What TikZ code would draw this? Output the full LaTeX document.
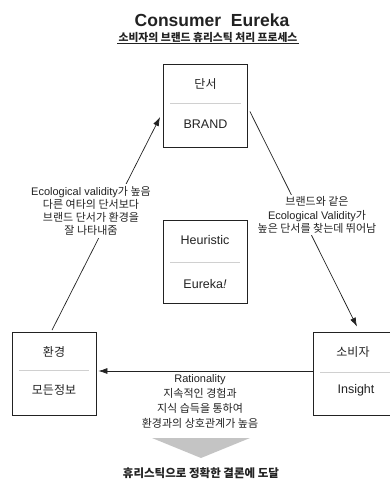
\documentclass[tikz,border=0pt]{standalone}
\usepackage{fontspec}
\setmainfont{Liberation Sans}
\newfontfamily\kr{Noto Sans CJK KR}
\usetikzlibrary{arrows.meta,calc}
\definecolor{ink}{HTML}{222222}
\definecolor{divcol}{HTML}{D0D0D0}
\definecolor{tri}{HTML}{C4C4C4}
\begin{document}
\begin{tikzpicture}[x=1pt,y=-1pt,
  box/.style={draw=ink, line width=0.8pt, minimum width=84pt, minimum height=83pt, inner sep=0pt},
  lbl/.style={font=\fontsize{12.5}{15}\selectfont, text=ink, inner sep=0pt},
  klbl/.style={font=\kr\fontsize{12}{15}\selectfont, text=ink, inner sep=0pt},
  note/.style={font=\fontsize{11}{13.2}\selectfont, align=center, fill=white, inner sep=2pt, text=ink},
  conn/.style={draw=ink, line width=0.7pt, -{Latex[length=9pt,width=6pt]}},
  divider/.style={draw=divcol, line width=0.7pt}]
\useasboundingbox (0,0) rectangle (390,485);
% titles
\node[font=\bfseries\fontsize{17.5}{20}\selectfont, text=ink] (title) at (212,20) {Consumer\ \ Eureka};
\node[font=\kr\bfseries\fontsize{10.8}{12}\selectfont, text=ink, inner sep=1pt] (sub) at (208,37) {소비자의 브랜드 휴리스틱 처리 프로세스};
\draw[ink, line width=0.6pt] (sub.south west) -- (sub.south east);
% boxes
\node[box] (brand) at (205.5,105.5) {};
\node[box] (heur) at (205,262) {};
\node[box] (env) at (54,374) {};
\node[box] (cons) at (355,373.5) {};
% labels
\node[klbl] (brandk) at (205.5,84) {단서};
\node[lbl] (brande) at (205.5,124) {BRAND};
\draw[divider] (170,103) -- (241,103);
\node[lbl] (heurk) at (205,240) {Heuristic};
\node[lbl] (heure) at (205,284) {Eureka\textit{!}};
\draw[divider] (170,262) -- (240,262);
\node[klbl] (envk) at (54,352) {환경};
\node[klbl] (enve) at (54,390) {모든정보};
\draw[divider] (19,370) -- (89,370);
\node[klbl] (consk) at (353,352) {소비자};
\node[lbl] (conse) at (356,390) {Insight};
\draw[divider] (320,372) -- (395,372);
% connectors
\draw[conn] ($(env.north)+(-2,-2)$) -- ($(brand.west)+(-3,11.5)$);
\draw[conn] ($(brand.east)+(2,6)$) -- ($(cons.north)+(2,-5)$);
\draw[conn] ($(cons.west)+(0,-2.5)$) -- ($(env.east)+(2,-3)$);
% notes
\node[note] (nleft) at (91,211) {Ecological validity{\kr 가 높음}\\{\kr 다른 여타의 단서보다}\\{\kr 브랜드 단서가 환경을}\\{\kr 잘 나타내줌}};
\node[note] (nright) at (317,215) {{\kr 브랜드와 같은}\\Ecological Validity{\kr 가}\\{\kr 높은 단서를 찾는데 뛰어남}};
\node[note, fill=none, font=\fontsize{11}{15}\selectfont] (nbottom) at (200,401) {Rationality\\{\kr 지속적인 경험과}\\{\kr 지식 습득을 통하여}\\{\kr 환경과의 상호관계가 높음}};
% result
\fill[tri] (152,438) -- (250,438) -- (201,458) -- cycle;
\node[font=\kr\bfseries\fontsize{11.5}{14}\selectfont, text=ink] (result) at (201,473) {휴리스틱으로 정확한 결론에 도달};
\end{tikzpicture}
\end{document}
